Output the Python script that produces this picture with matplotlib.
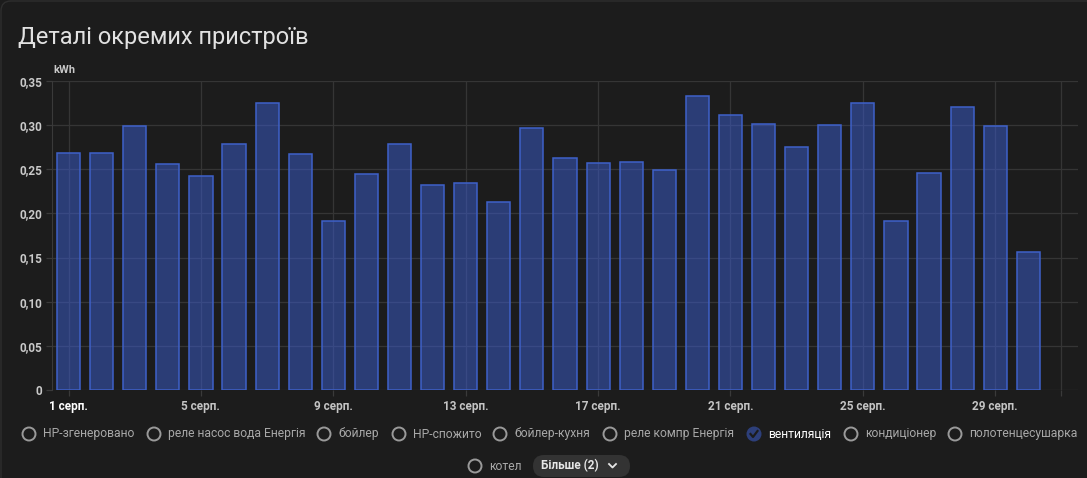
import numpy as np
import matplotlib
matplotlib.use("Agg")
import matplotlib.pyplot as plt
from matplotlib.patches import Circle, FancyBboxPatch

plt.rcParams['font.family'] = ['Roboto', 'DejaVu Sans']

# daily energy of "вентиляція", August
days = list(range(1, 31))
values = [0.268, 0.268, 0.299, 0.256, 0.242, 0.279, 0.325, 0.267, 0.191, 0.245,
          0.279, 0.232, 0.234, 0.213, 0.297, 0.263, 0.257, 0.258, 0.249, 0.333,
          0.311, 0.301, 0.275, 0.300, 0.325, 0.191, 0.246, 0.320, 0.299, 0.156]
tick_days = [1, 5, 9, 13, 17, 21, 25, 29]
tick_labels = [f"{d} серп." for d in tick_days]
y_ticks = [0, 0.05, 0.10, 0.15, 0.20, 0.25, 0.30, 0.35]
y_labels = ["0", "0,05", "0,10", "0,15", "0,20", "0,25", "0,30", "0,35"]
legend_row1 = ["НР-згенеровано", "реле насос вода Енергія", "бойлер", "НР-спожито",
               "бойлер-кухня", "реле компр Енергія", "вентиляція", "кондиціонер",
               "полотенцесушарка"]
legend_row2 = ["котел"]
active = "вентиляція"

bg = "#1c1c1c"
W, H = 1087, 478
fig = plt.figure(figsize=(W / 100, H / 100), dpi=100, facecolor=bg)

# overlay in pixel coords for title / legend
ov = fig.add_axes([0, 0, 1, 1], zorder=-1)
ov.set_xlim(0, W)
ov.set_ylim(H, 0)
ov.axis("off")
ov.add_patch(FancyBboxPatch((1, 1), W + 20, H + 20, boxstyle="round,pad=0,rounding_size=10",
                            fc=bg, ec="#2e2e2e", lw=1))
ov.text(18, 37, "Деталі окремих пристроїв", color="#e1e1e1", fontsize=17,
        va="center", ha="left")

ax = fig.add_axes([52 / W, 1 - 390 / H, (1078 - 52) / W, (390 - 81) / H])
ax.set_facecolor(bg)
ax.bar(days, values, width=0.7, color="#3b5ed1", alpha=0.5, zorder=3)
ax.bar(days, values, width=0.7, facecolor="none", edgecolor="#3e61c9", lw=1.1, zorder=4)

ax.set_xlim(0.5, 31.5)
ax.set_ylim(0, 0.35)
ax.set_yticks(y_ticks)
ax.set_yticklabels(y_labels)
ax.set_xticks(tick_days + [31])
ax.set_xticklabels(tick_labels + [""])
ax.grid(True, color="#353535", lw=0.9, zorder=0)
for s in ["top", "right", "bottom"]:
    ax.spines[s].set_visible(False)
ax.spines["left"].set_color("#3a3a3a")
ax.tick_params(axis="both", colors="#3a3a3a", length=4, width=0.9, pad=3)
for lab in ax.get_yticklabels():
    lab.set_color("#c9c9c9")
    lab.set_fontsize(8.5)
    lab.set_fontweight("bold")
for i, lab in enumerate(ax.get_xticklabels()):
    lab.set_fontsize(8.5)
    lab.set_fontweight("bold")
    lab.set_color("#ffffff" if i == 0 else "#c4c4c4")
ax.text(0.001, 1.02, "kWh", transform=ax.transAxes, color="#c9c9c9", fontsize=8,
        fontweight="bold", ha="left", va="bottom")

# legend
def legend_item(x, y, name):
    if name == active:
        ov.add_patch(Circle((x, y), 7.5, fc="#2d3f7a", ec="none"))
        ov.plot([x - 3.5, x - 1, x + 3.5], [y, y + 3, y - 3], color="#1c1c1c", lw=1.6)
        col = "#ffffff"
    else:
        ov.add_patch(Circle((x, y), 6.5, fc="none", ec="#9a9a9a", lw=1.4))
        col = "#a8a8a8"
    ov.text(x + 14.5, y, name, color=col, fontsize=8.7, va="center", ha="left")

row1_x = [29, 154, 324, 399, 500, 610, 754, 851, 955]
for x, name in zip(row1_x, legend_row1):
    legend_item(x, 434, name)
for name in legend_row2:
    legend_item(475, 466, name)

ov.add_patch(FancyBboxPatch((533, 455), 97, 22, boxstyle="round,pad=0,rounding_size=11",
                            fc="#333333", ec="none"))
ov.text(541, 466, "Більше (2)", color="#e6e6e6", fontsize=8.5, fontweight="bold",
        va="center", ha="left")
ov.plot([609, 612.5, 616], [464, 467.5, 464], color="#e6e6e6", lw=1.3)

fig.savefig("out.png", dpi=100, facecolor=bg)
